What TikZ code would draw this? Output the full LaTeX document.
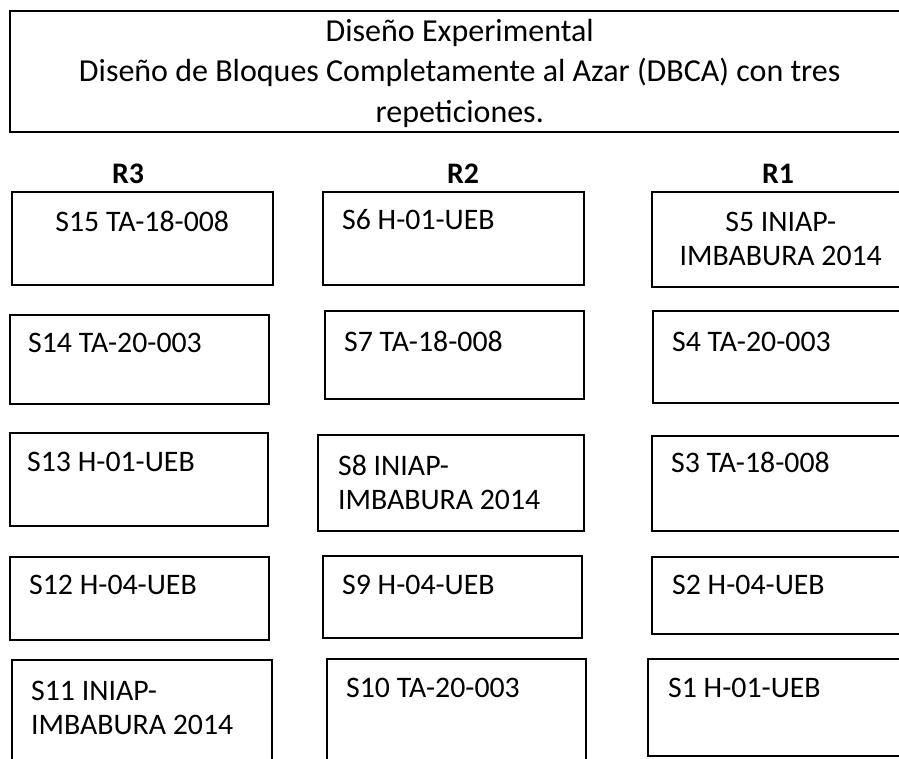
\documentclass[tikz,border=0pt]{standalone}
\usepackage{fontspec}
\setmainfont{Carlito}
\usetikzlibrary{calc,positioning}

\begin{document}
\begin{tikzpicture}[x=1pt,y=-1pt,
  parcela/.style={draw,line width=1.5pt,rectangle,anchor=north west,inner sep=0pt},
  etiq/.style={inner sep=0pt,font=\fontsize{29.8}{34}\selectfont,align=left,anchor=base west},
  rep/.style={inner sep=0pt,font=\fontsize{29.8}{34}\selectfont\bfseries,anchor=base}]
\useasboundingbox (0,0) rectangle (899,758);
% base of a node with several lines = its last line
\node[parcela,minimum width=900pt,minimum height=121pt] (titulo) at (9,10) {};
\node[inner sep=0pt,anchor=base,align=center,font=\fontsize{32}{40.5}\selectfont] (tit) at ($(titulo.north)+(0,112)$)
  {Diseño Experimental\\Diseño de Bloques Completamente al Azar (DBCA) con tres\\repeticiones.};
\node[rep] (r3) at (128,183) {R3};
\node[rep] (r2) at (463,183) {R2};
\node[rep] (r1) at (778,183) {R1};
\node[parcela,minimum width=261pt,minimum height=93pt] (s15) at (11,191) {};
\node[parcela,minimum width=259pt,minimum height=89pt] (s14) at (9,314) {};
\node[parcela,minimum width=258pt,minimum height=93pt] (s13) at (9,432) {};
\node[parcela,minimum width=259pt,minimum height=83pt] (s12) at (9,556) {};
\node[parcela,minimum width=260pt,minimum height=111pt] (s11) at (11,659) {};
\node[parcela,minimum width=261pt,minimum height=93pt] (s6) at (322,191) {};
\node[parcela,minimum width=259pt,minimum height=88pt] (s7) at (324,310) {};
\node[parcela,minimum width=266pt,minimum height=96pt] (s8) at (317,434) {};
\node[parcela,minimum width=259pt,minimum height=82pt] (s9) at (322,555) {};
\node[parcela,minimum width=259pt,minimum height=112pt] (s10) at (326,658) {};
\node[parcela,minimum width=258pt,minimum height=95pt] (s5) at (651,191) {};
\node[parcela,minimum width=257pt,minimum height=92pt] (s4) at (652,310) {};
\node[parcela,minimum width=258pt,minimum height=95pt] (s3) at (651,435) {};
\node[parcela,minimum width=258pt,minimum height=77pt] (s2) at (651,556) {};
\node[parcela,minimum width=262pt,minimum height=97pt] (s1) at (647,658) {};
\node[etiq,anchor=base,align=center] at ($(s15.north)+(0,40)$) {S15 TA-18-008};
\node[etiq] at ($(s14.north west)+(19,38)$) {S14 TA-20-003};
\node[etiq] at ($(s13.north west)+(18,39)$) {S13 H-01-UEB};
\node[etiq] at ($(s12.north west)+(20,38)$) {S12 H-04-UEB};
\node[etiq] at ($(s11.north west)+(20,75)$) {S11 INIAP-\\IMBABURA 2014};
\node[etiq] at ($(s6.north west)+(20,38)$) {S6 H-01-UEB};
\node[etiq] at ($(s7.north west)+(20,41)$) {S7 TA-18-008};
\node[etiq] at ($(s8.north west)+(21,75)$) {S8 INIAP-\\IMBABURA 2014};
\node[etiq] at ($(s9.north west)+(20,39)$) {S9 H-04-UEB};
\node[etiq] at ($(s10.north west)+(20,39)$) {S10 TA-20-003};
\node[etiq,anchor=base,align=center] at ($(s5.north)+(0,74)$) {S5 INIAP-\\IMBABURA 2014};
\node[etiq] at ($(s4.north west)+(20,41)$) {S4 TA-20-003};
\node[etiq] at ($(s3.north west)+(20,37)$) {S3 TA-18-008};
\node[etiq] at ($(s2.north west)+(21,38)$) {S2 H-04-UEB};
\node[etiq] at ($(s1.north west)+(21,39)$) {S1 H-01-UEB};
\end{tikzpicture}
\end{document}
